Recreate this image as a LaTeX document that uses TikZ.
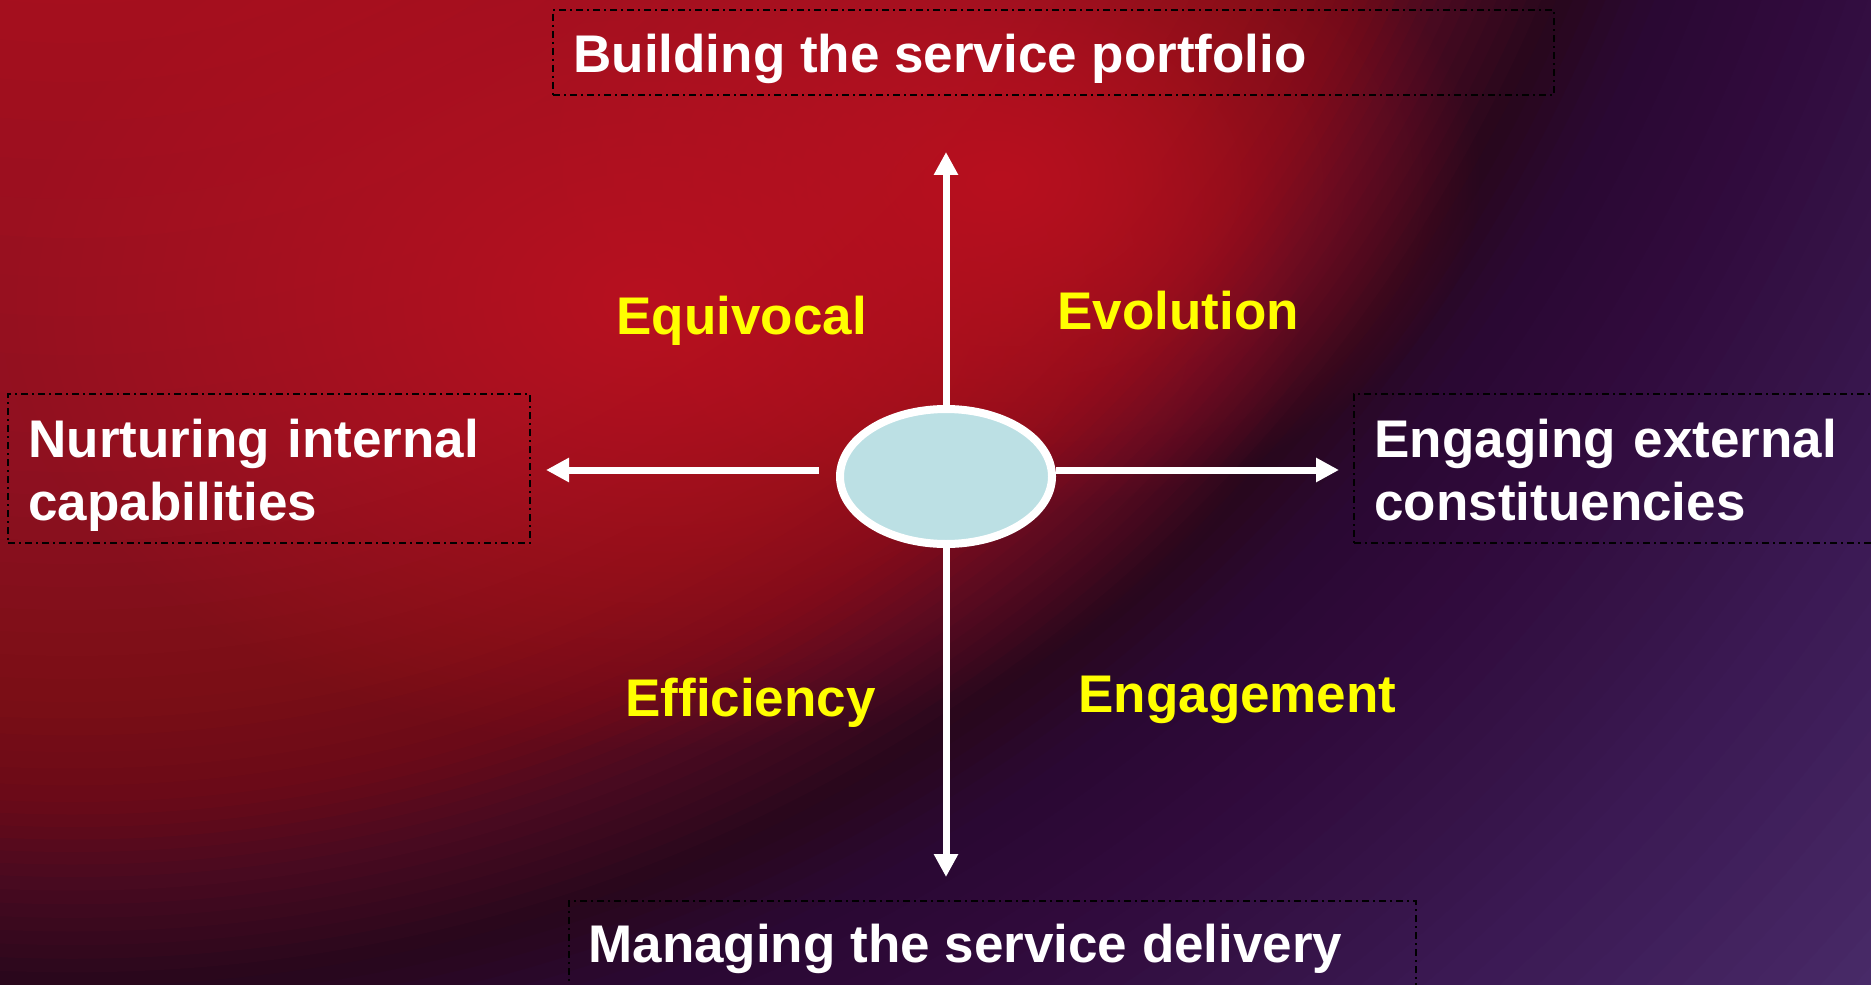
\documentclass[tikz,border=0pt]{standalone}
\usepackage{fontspec}
\setmainfont{Liberation Sans}
\usetikzlibrary{arrows.meta,shapes.geometric,fadings}

\definecolor{rgA}{HTML}{4A2C6A}
\definecolor{rgB}{HTML}{3A1852}
\definecolor{rgC}{HTML}{361448}
\definecolor{rgD}{HTML}{300A3C}
\definecolor{rgE}{HTML}{2A0832}
\definecolor{rgF}{HTML}{28071C}
\definecolor{rgG}{HTML}{4A0A20}
\definecolor{rgH}{HTML}{6A0A18}
\definecolor{rgI}{HTML}{7A0E16}
\definecolor{rgJ}{HTML}{8E1020}
\definecolor{rgK}{HTML}{A50F1E}
\definecolor{redHi}{HTML}{B8101F}
\definecolor{ellFill}{HTML}{BCE0E4}
\definecolor{labYellow}{HTML}{FFFF00}

\tikzfading[name=blobfade, inner color=transparent!0, outer color=transparent!100]

% rings of the background, drawn from the outside in
\newcommand{\bgring}[5]{%
  \foreach \bgi in {1,...,#5}{%
    \pgfmathsetmacro\bgr{#1-(#1-#2)*(\bgi-1)/#5}%
    \pgfmathsetmacro\bgmix{100*(\bgi-0.5)/#5}%
    \fill[#4!\bgmix!#3] (72,-623) circle[radius=\bgr];
  }}

\tikzset{
  lbl/.style={text=white, font=\bfseries\fontsize{26.5pt}{31.5pt}\selectfont, inner sep=0pt, anchor=base west},
  ylbl/.style={lbl, text=labYellow},
  dbox/.style={draw=black, line width=0.75pt, dash pattern=on 3.5pt off 2pt on 1pt off 2pt, inner sep=0pt, minimum height=74.5pt},
  arr/.style={draw=white, line width=3.5pt, -{Triangle[length=11.5pt,width=11.5pt]}},
  core/.style={ellipse, draw=white, line width=4pt, fill=ellFill, minimum width=106pt, minimum height=67.5pt, inner sep=0pt}
}

\begin{document}
\begin{tikzpicture}[x=0.5pt,y=-0.5pt]
\useasboundingbox (0,0) rectangle (1871,984);
\clip (0,0) rectangle (1871,984);

% background
\fill[rgA] (0,0) rectangle (1871,984);
\bgring{2450}{2100}{rgA}{rgB}{14}
\bgring{2100}{2000}{rgB}{rgC}{5}
\bgring{2000}{1840}{rgC}{rgD}{8}
\bgring{1840}{1700}{rgD}{rgE}{7}
\bgring{1700}{1609}{rgE}{rgF}{6}
\bgring{1609}{1500}{rgF}{rgG}{8}
\bgring{1500}{1425}{rgG}{rgH}{6}
\bgring{1425}{1325}{rgH}{rgI}{6}
\bgring{1325}{1095}{rgI}{rgJ}{10}
\bgring{1095}{627}{rgJ}{rgK}{12}
\fill[rgK] (72,-623) circle[radius=627];
\fill[redHi, path fading=blobfade] (650,300) ellipse [x radius=650, y radius=450];
\fill[redHi, path fading=blobfade] (1000,180) ellipse [x radius=480, y radius=330];

% boxes
\node[dbox, minimum width=500.5pt, minimum height=42.5pt] (topbox) at (1053.5,52.5) {};
\node[dbox, minimum width=261pt] (leftbox) at (269,468.5) {};
\node[dbox, minimum width=273pt] (rightbox) at (1627,468.5) {};
\node[dbox, minimum width=423.5pt, minimum height=54.5pt] (botbox) at (992.5,955.5) {};

% texts
\node[lbl] (toptext) at (573,73) {Building the service portfolio};
\node[lbl, text width=250pt, align=left] (lefttext) at (28,457) {Nurturing internal\\capabilities};
\node[lbl, text width=250pt, align=left] (righttext) at (1374,457) {Engaging external\\constituencies};
\node[lbl] (bottext) at (588,962) {Managing the service delivery};

\node[ylbl] (equiv) at (616,334) {Equivocal};
\node[ylbl] (evol) at (1057,329) {Evolution};
\node[ylbl] (effic) at (625,716) {Efficiency};
\node[ylbl] (engag) at (1078,712) {Engagement};

% centre and arrows
\node[core] (centre) at (946,476.5) {};
\coordinate (tipN) at (946,152);
\coordinate (tipS) at (946,877);
\coordinate (tipW) at (546,470);
\coordinate (startW) at (819,470);
\coordinate (tipE) at (1339,470);

\draw[arr] (centre.north) -- (tipN);
\draw[arr] (centre.south) -- (tipS);
\draw[arr] (startW) -- (tipW);
\draw[arr] (tipE -| centre.east) -- (tipE);
\end{tikzpicture}
\end{document}
